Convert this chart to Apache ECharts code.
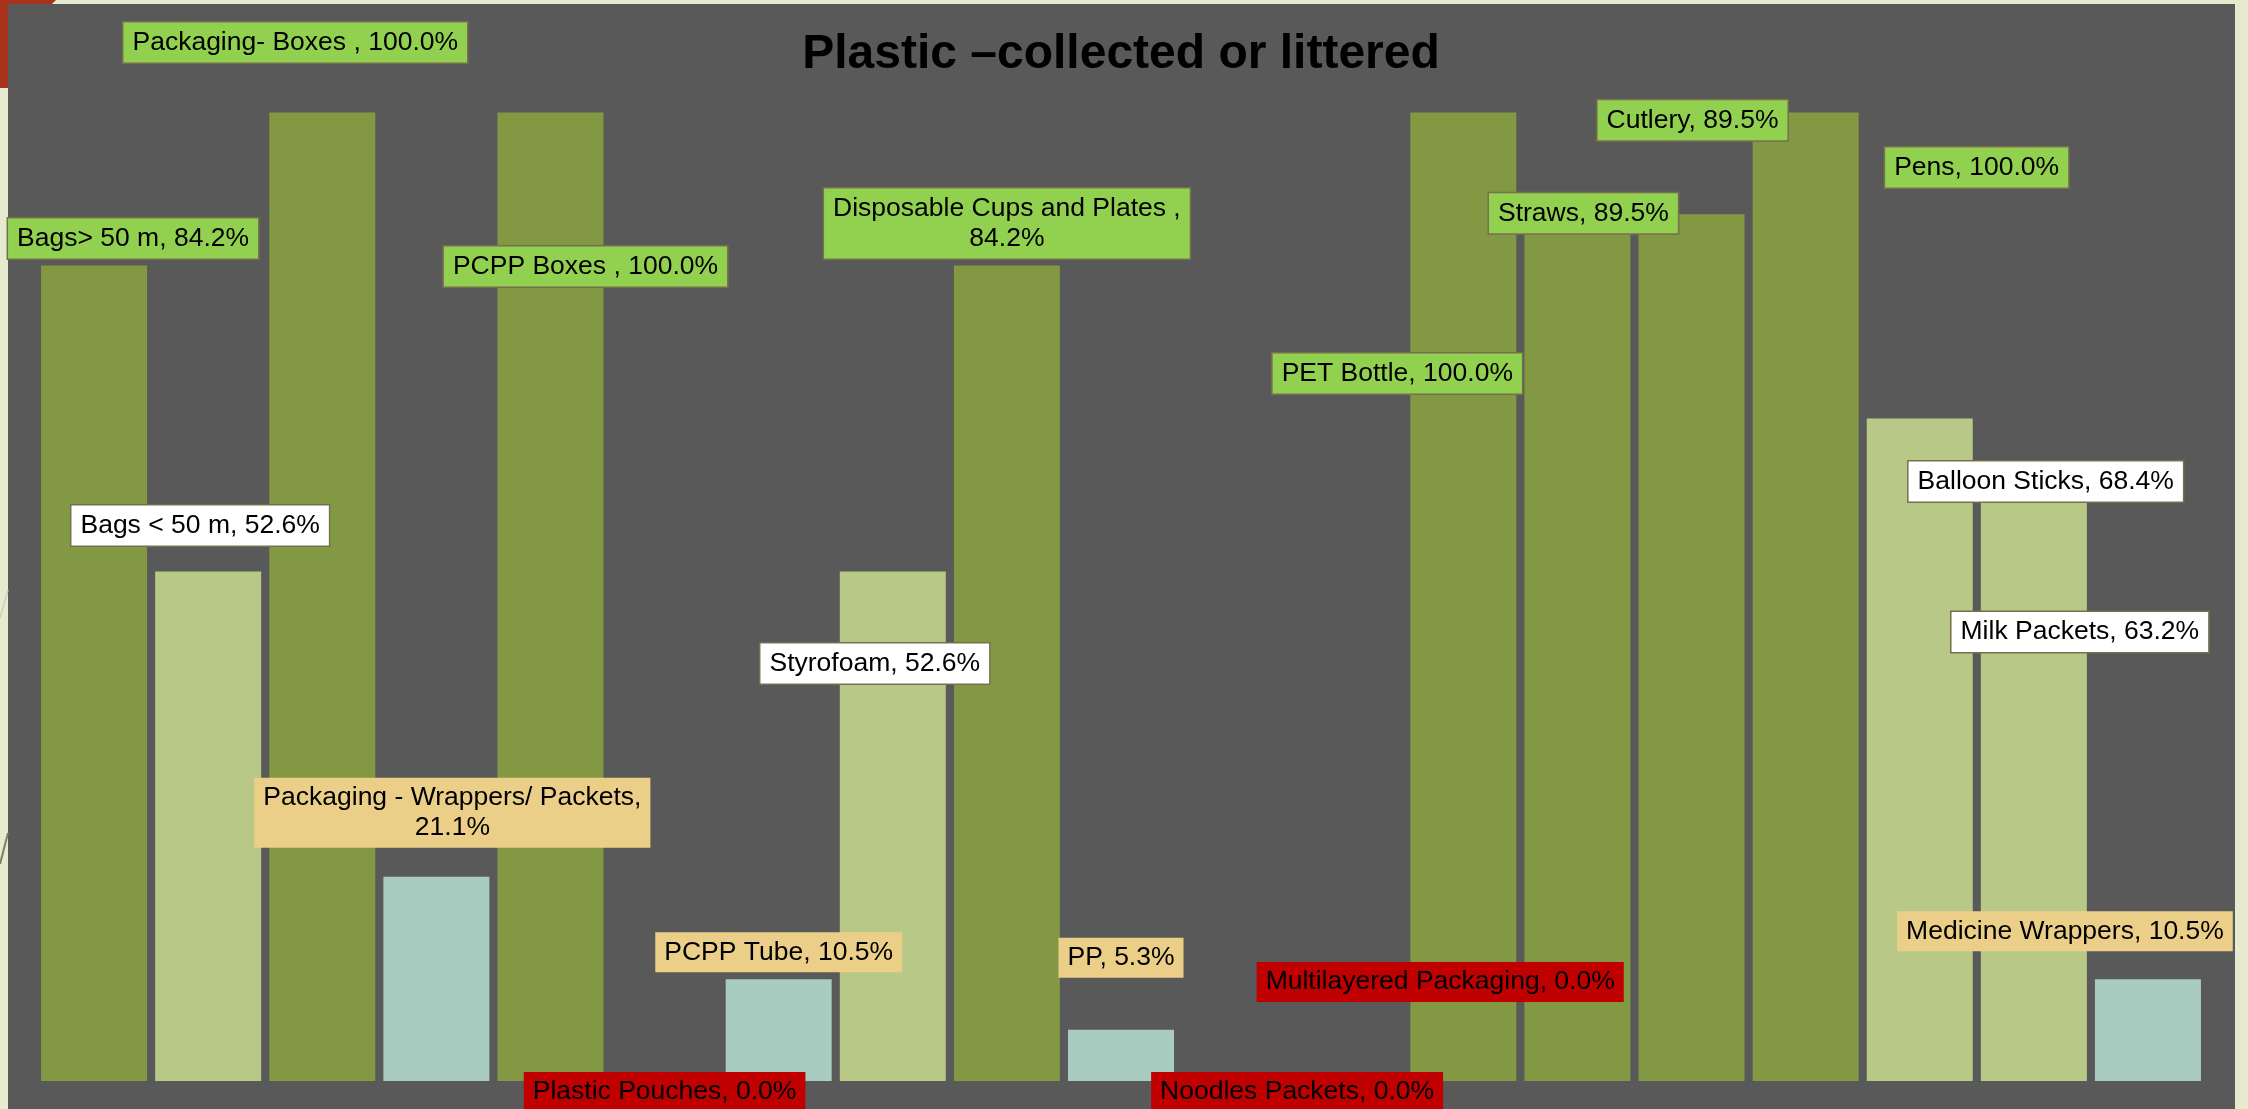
<!DOCTYPE html>
<html>
<head>
<meta charset="utf-8">
<title>Plastic –collected or littered</title>
<script src="https://cdn.jsdelivr.net/npm/echarts@6/dist/echarts.min.js"></script>
<style>
  html, body { margin: 0; padding: 0; background: #E6EBCF; }
  #chart { width: 2248px; height: 1109px; }
</style>
</head>
<body>
<div id="chart"></div>
<script>
// Share of each plastic item that is collected (percent)
const categories = [
  'Bags> 50 m', 'Bags < 50 m', 'Packaging- Boxes ', 'Packaging - Wrappers/ Packets',
  'PCPP Boxes ', 'Plastic Pouches', 'PCPP Tube', 'Styrofoam',
  'Disposable Cups and Plates ', 'PP', 'Noodles Packets', 'Multilayered Packaging',
  'PET Bottle', 'Straws', 'Cutlery', 'Pens', 'Balloon Sticks', 'Milk Packets',
  'Medicine Wrappers'
];
const shares = [84.2, 52.6, 100.0, 21.1, 100.0, 0.0, 10.5, 52.6, 84.2, 5.3, 0.0, 0.0,
                100.0, 89.5, 89.5, 100.0, 68.4, 63.2, 10.5];

// Callout placement relative to the top-centre of each bar (px)
const labelOffsets = [
  [39, -7], [-8, -26], [-27, -50], [16, -29], [35, 174], [0, 31], [0, -7], [-18, 112],
  [0, -7], [0, -52], [62, 31], [91, -79], [-66, 281], [6, 19], [1, -74], [171, 75],
  [126, 83], [46, 183], [-83, -28]
];
// Callouts whose value sits on a second line
const wrappedLabels = [3, 8];

// Colour bands: 0 = none collected, 1 = low, 2 = medium, 3 = high
function band(v) { return v === 0 ? 0 : v < 50 ? 1 : v < 80 ? 2 : 3; }
const barFill = ['#595959', '#A8CCBF', '#B8C987', '#839843'];
const calloutFill = ['#C00000', '#EBCF89', '#FFFFFF', '#92D050'];
const calloutBorder = [0, 0, 1.5, 1.5];

const chart = echarts.init(document.getElementById('chart'), null, { renderer: 'canvas' });

const seriesData = shares.map(function (v, i) {
  const b = band(v);
  return {
    value: v,
    itemStyle: { color: barFill[b] },
    label: {
      offset: labelOffsets[i],
      backgroundColor: calloutFill[b],
      borderColor: '#77704F',
      borderWidth: calloutBorder[b]
    }
  };
});

chart.setOption({
  animation: false,
  backgroundColor: '#E6EBCF',
  graphic: [
    { type: 'rect', z: -10, shape: { x: 8, y: 4, width: 2227, height: 1105 }, style: { fill: '#595959' } },
    { type: 'polygon', z: -10, shape: { points: [[0, 0], [56, 0], [52, 4], [8, 4], [8, 88], [0, 88]] }, style: { fill: '#A8331A' } },
    { type: 'line', z: -10, shape: { x1: 0, y1: 864, x2: 8, y2: 833 }, style: { stroke: '#7E7B66', lineWidth: 2 } },
    { type: 'line', z: -10, shape: { x1: 0, y1: 618, x2: 8, y2: 590 }, style: { stroke: '#CFCFC0', lineWidth: 1.5 } },
    {
      type: 'text', z: 10, x: 1121, y: 55,
      style: {
        text: 'Plastic –collected or littered',
        font: 'bold 48px "Liberation Sans", Arial, sans-serif',
        fill: '#000000', align: 'center', verticalAlign: 'middle'
      }
    }
  ],
  grid: { left: 37, top: 112.5, width: 2168, height: 968.5, containLabel: false },
  xAxis: { type: 'category', data: categories, show: false },
  yAxis: { type: 'value', min: 0, max: 100, show: false },
  series: [{
    type: 'bar',
    data: seriesData,
    barCategoryGap: '7.1%',
    label: {
      show: true,
      position: 'top',
      distance: 0,
      color: '#000000',
      fontFamily: '"Liberation Sans", Arial, sans-serif',
      fontSize: 26.5,
      lineHeight: 30,
      padding: [5, 9],
      formatter: function (p) {
        const sep = wrappedLabels.indexOf(p.dataIndex) >= 0 ? ',\n' : ', ';
        return p.name + sep + p.value.toFixed(1) + '%';
      }
    }
  }]
});
</script>
</body>
</html>
